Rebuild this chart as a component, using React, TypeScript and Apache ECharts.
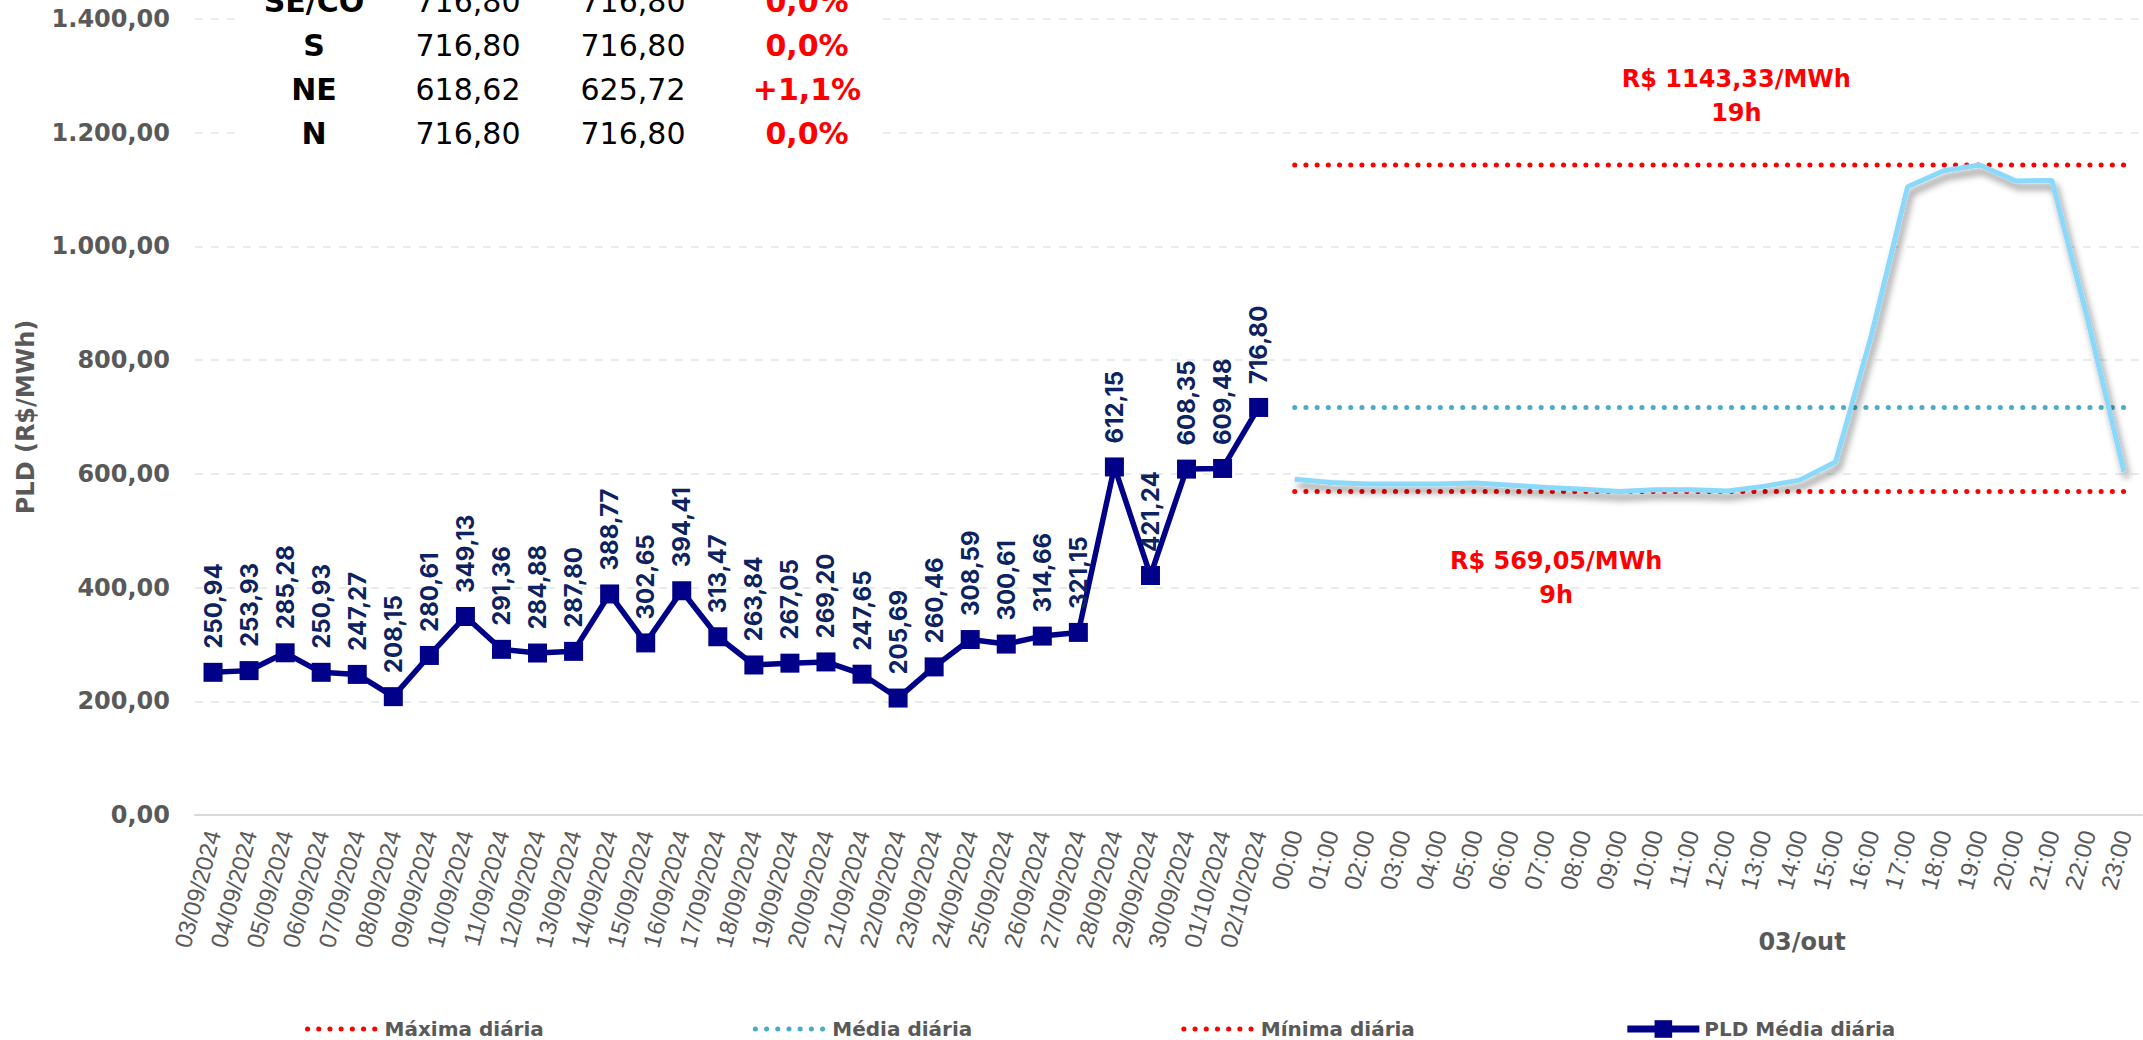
import React, { useEffect, useRef } from "react";
import * as echarts from "echarts";

const dates = [
  "03/09/2024", "04/09/2024", "05/09/2024", "06/09/2024", "07/09/2024", "08/09/2024",
  "09/09/2024", "10/09/2024", "11/09/2024", "12/09/2024", "13/09/2024", "14/09/2024",
  "15/09/2024", "16/09/2024", "17/09/2024", "18/09/2024", "19/09/2024", "20/09/2024",
  "21/09/2024", "22/09/2024", "23/09/2024", "24/09/2024", "25/09/2024", "26/09/2024",
  "27/09/2024", "28/09/2024", "29/09/2024", "30/09/2024", "01/10/2024", "02/10/2024",
];
const hours = [
  "00:00", "01:00", "02:00", "03:00", "04:00", "05:00", "06:00", "07:00", "08:00", "09:00",
  "10:00", "11:00", "12:00", "13:00", "14:00", "15:00", "16:00", "17:00", "18:00", "19:00",
  "20:00", "21:00", "22:00", "23:00",
];
const pldDiario = [
  250.94, 253.93, 285.28, 250.93, 247.27, 208.15, 280.61, 349.13, 291.36, 284.88,
  287.8, 388.77, 302.65, 394.41, 313.47, 263.84, 267.05, 269.2, 247.65, 205.69,
  260.46, 308.59, 300.61, 314.66, 321.15, 612.15, 421.24, 608.35, 609.48, 716.8,
];
const pldHorario = [
  590.4, 585, 582, 582, 582, 584, 580, 576, 573, 569.05,
  572, 572, 570, 578, 589, 621, 845, 1105, 1133, 1143.33,
  1115, 1116, 870, 604,
];
const maxDiaria = 1143.33;
const mediaDiaria = 716.8;
const minDiaria = 569.05;
const yMin = 0;
const yMax = 1400;
const yStep = 200;

const tabSubmercado = ["SE/CO", "S", "NE", "N"];
const tabAnterior = ["716,80", "716,80", "618,62", "716,80"];
const tabAtual = ["716,80", "716,80", "625,72", "716,80"];
const tabVariacao = ["0,0%", "0,0%", "+1,1%", "0,0%"];

const dayLabel = "03/out";

function fmtBR(v: number, thousands = true): string {
  const [i, d] = v.toFixed(2).split(".");
  const ii = thousands ? i.replace(/\B(?=(\d{3})+(?!\d))/g, ".") : i;
  return `${ii},${d}`;
}

const GREY = "#595959";
const NAVY = "#000088";
const RED = "#ff0000";
const TEAL = "#4bacc6";
const SKY = "#8ad8fa";
const DOT: number[] = [0.1, 11.1];

export default function App() {
  const ref = useRef<HTMLDivElement>(null);

  useEffect(() => {
    const chart = echarts.init(ref.current!, undefined, { renderer: "svg" });
    const categories = [...dates, ...hours];
    const nullsDays = dates.map(() => null);
    const nullsHours = hours.map(() => null);

    const idxMax = pldHorario.indexOf(Math.max(...pldHorario));
    const idxMin = pldHorario.indexOf(Math.min(...pldHorario));

    const annoText = {
      color: RED,
      fontFamily: "DejaVu Sans",
      fontWeight: "bold" as const,
      fontSize: 24,
      lineHeight: 34,
      align: "center" as const,
    };

    const tableGraphics: any[] = [
      {
        type: "rect",
        shape: { x: 241, y: -60, width: 640, height: 218 },
        style: { fill: "#ffffff" },
        z: 50,
      },
    ];
    const colX = [314, 468, 633, 807];
    tabSubmercado.forEach((name, r) => {
      const y = 1 + r * 44;
      const cells = [
        { t: name, w: "bold", c: "#000" },
        { t: tabAnterior[r], w: "normal", c: "#000" },
        { t: tabAtual[r], w: "normal", c: "#000" },
        { t: tabVariacao[r], w: "bold", c: RED },
      ];
      cells.forEach((cell, c) => {
        tableGraphics.push({
          type: "text",
          x: colX[c],
          y,
          z: 51,
          style: {
            text: cell.t,
            fill: cell.c,
            fontFamily: "DejaVu Sans",
            fontWeight: cell.w,
            fontSize: 30,
            align: "center",
            verticalAlign: "middle",
          },
        });
      });
    });
    tableGraphics.push({
      type: "text",
      x: 1802,
      y: 942,
      z: 51,
      style: {
        text: dayLabel,
        fill: GREY,
        fontFamily: "DejaVu Sans",
        fontWeight: "bold",
        fontSize: 24,
        align: "center",
        verticalAlign: "middle",
      },
    });

    const dottedSeries = (name: string, value: number, color: string, extra: any = {}) => ({
      name,
      type: "line",
      data: [...nullsDays, ...hours.map(() => value)],
      symbol: "none",
      showSymbol: false,
      lineStyle: { color, width: 5, type: DOT, cap: "round" },
      itemStyle: { color },
      z: 2,
      silent: true,
      ...extra,
    });

    const dottedLegend = (name: string, color: string) => ({
      name,
      itemStyle: { opacity: 0 },
      lineStyle: { color, width: 5, type: DOT, cap: "round" },
    });

    chart.setOption({
      animation: false,
      backgroundColor: "#ffffff",
      grid: { left: 195, right: 1, top: 19, bottom: 225, containLabel: false },
      legend: {
        data: [
          dottedLegend("Máxima diária", RED),
          dottedLegend("Média diária", TEAL),
          dottedLegend("Mínima diária", RED),
          { name: "PLD Média diária", lineStyle: { color: NAVY, width: 7 } },
        ],
        left: 300,
        top: 1014,
        itemWidth: 72,
        itemHeight: 22,
        itemGap: 209,
        textStyle: { fontFamily: "DejaVu Sans", fontWeight: "bold", fontSize: 20, color: GREY },
      },
      xAxis: {
        type: "category",
        data: categories,
        boundaryGap: true,
        axisLine: { lineStyle: { color: "#d9d9d9", width: 2 } },
        axisTick: { show: false },
        axisLabel: {
          interval: 0,
          rotate: 75,
          margin: 16,
          color: GREY,
          fontFamily: "Liberation Sans",
          fontSize: 24,
        },
        splitLine: { show: false },
      },
      yAxis: {
        type: "value",
        min: yMin,
        max: yMax,
        interval: yStep,
        name: "PLD (R$/MWh)",
        nameLocation: "middle",
        nameGap: 157,
        nameTextStyle: { fontFamily: "DejaVu Sans", fontWeight: "bold", fontSize: 24, color: GREY },
        axisLine: { show: false },
        axisTick: { show: false },
        axisLabel: {
          formatter: (v: number) => fmtBR(v),
          margin: 25,
          color: GREY,
          fontFamily: "DejaVu Sans",
          fontWeight: "bold",
          fontSize: 24,
        },
        splitLine: { lineStyle: { color: "#dfe8e8", width: 1.5, type: [8, 8] } },
      },
      graphic: tableGraphics,
      series: [
        dottedSeries("Máxima diária", maxDiaria, RED, {
          markPoint: {
            symbol: "circle",
            symbolSize: 1,
            itemStyle: { color: "rgba(0,0,0,0)" },
            label: {
              show: true,
              position: "top",
              distance: 34,
              offset: [9, 0],
              formatter: () => `R$ ${fmtBR(maxDiaria, false)}/MWh\n${idxMax}h`,
              ...annoText,
            },
            data: [{ coord: [hours[12], maxDiaria] }],
          },
        }),
        dottedSeries("Média diária", mediaDiaria, TEAL),
        dottedSeries("Mínima diária", minDiaria, RED, {
          markPoint: {
            symbol: "circle",
            symbolSize: 1,
            itemStyle: { color: "rgba(0,0,0,0)" },
            label: {
              show: true,
              position: "bottom",
              distance: 52,
              offset: [9, 0],
              formatter: () => `R$ ${fmtBR(minDiaria, false)}/MWh\n${idxMin}h`,
              ...annoText,
            },
            data: [{ coord: [hours[7], minDiaria] }],
          },
        }),
        {
          name: "PLD horário",
          type: "line",
          data: [...nullsDays, ...pldHorario],
          symbol: "none",
          showSymbol: false,
          lineStyle: {
            color: SKY,
            width: 5,
            shadowColor: "rgba(0,0,0,0.45)",
            shadowBlur: 7,
            shadowOffsetX: 3,
            shadowOffsetY: 6,
          },
          itemStyle: { color: SKY },
          z: 3,
        },
        {
          name: "PLD Média diária",
          type: "line",
          data: [...pldDiario, ...nullsHours],
          symbol: "rect",
          symbolSize: 19,
          showSymbol: true,
          lineStyle: { color: NAVY, width: 5.5 },
          itemStyle: { color: NAVY },
          z: 4,
          label: {
            show: true,
            position: "top",
            distance: 14,
            rotate: 90,
            align: "left",
            verticalAlign: "middle",
            color: "#0d2260",
            fontFamily: "Inter",
            fontWeight: "bold",
            fontSize: 24,
            formatter: (p: any) => fmtBR(p.value, false),
          },
        },
      ],
    });
    return () => chart.dispose();
  }, []);

  return (
    <div
      ref={ref}
      style={{ position: "absolute", left: 0, top: 0, width: 2143, height: 1040, background: "#fff" }}
    />
  );
}
